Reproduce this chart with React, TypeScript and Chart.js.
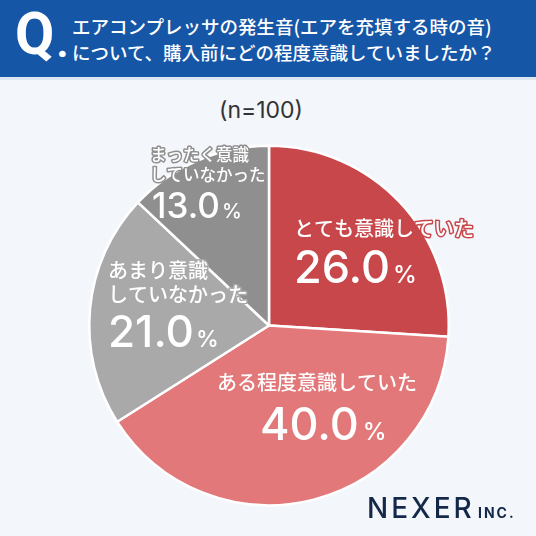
import React, { useEffect, useRef } from "react";
import { Chart, registerables } from "chart.js";

Chart.register(...registerables);

// ---- data ----
const categories = [
  "とても意識していた",
  "ある程度意識していた",
  "あまり意識していなかった",
  "まったく意識していなかった",
];
const labelLines = [
  ["とても意識していた"],
  ["ある程度意識していた"],
  ["あまり意識", "していなかった"],
  ["まったく意識", "していなかった"],
];
const values = [26.0, 40.0, 21.0, 13.0];
const titleLines = [
  "エアコンプレッサの発生音(エアを充填する時の音)",
  "について、購入前にどの程度意識していましたか？",
];
const sampleText = "(n=100)";
const brandMain = "NEXER";
const brandSub = "INC.";

// ---- styles ----
const sliceColors = ["#c8474b", "#e27879", "#a9a9a9", "#8f8f8f"];
const labelLayout = [
  { lineDx: 25, lineDy: [-97.5], lineSize: 20, numDx: 25, numDy: -42.5, numSize: 45, pctSize: 24, gap: 3 },
  { lineDx: -52, lineDy: [56.5], lineSize: 20, numDx: -9, numDy: 114.5, numSize: 45, pctSize: 24, gap: 4 },
  { lineDx: -161, lineDy: [-55.5, -31.5], lineSize: 20, numDx: -161, numDy: 21.5, numSize: 44, pctSize: 23, gap: 2 },
  { lineDx: -119, lineDy: [-170.5, -150.5], lineSize: 16.5, numDx: -117, numDy: -107.5, numSize: 35, pctSize: 20, gap: 2 },
];
const JP = '"Noto Sans CJK JP", "Noto Sans", sans-serif';
const NUM = 'Inter, "Noto Sans", sans-serif';

const labelPlugin = {
  id: "sliceLabels",
  afterDatasetsDraw(chart: any) {
    const ctx = chart.ctx as CanvasRenderingContext2D;
    const meta = chart.getDatasetMeta(0);
    meta.data.forEach((arc: any, i: number) => {
      const { x: cx, y: cy } = arc.getProps(["x", "y"], true);
      const L = labelLayout[i];
      ctx.save();
      ctx.lineJoin = "round";
      ctx.strokeStyle = sliceColors[i];
      ctx.lineWidth = 3;
      ctx.fillStyle = "#ffffff";
      ctx.textAlign = "left";
      ctx.textBaseline = "middle";
      ctx.font = `500 ${L.lineSize}px ${JP}`;
      labelLines[i].forEach((t, k) => {
        const y = cy + L.lineDy[k];
        ctx.strokeText(t, cx + L.lineDx, y);
        ctx.fillText(t, cx + L.lineDx, y);
      });
      ctx.textBaseline = "alphabetic";
      const num = values[i].toFixed(1);
      ctx.font = `500 ${L.numSize}px ${NUM}`;
      const nx = cx + L.numDx;
      const ny = cy + L.numDy;
      ctx.strokeText(num, nx, ny);
      ctx.fillText(num, nx, ny);
      const w = ctx.measureText(num).width;
      ctx.font = `500 ${L.pctSize}px ${NUM}`;
      ctx.strokeText("%", nx + w + L.gap, ny);
      ctx.fillText("%", nx + w + L.gap, ny);
      ctx.restore();
    });
  },
};

export default function App() {
  const canvasRef = useRef<HTMLCanvasElement | null>(null);

  useEffect(() => {
    if (!canvasRef.current) return;
    const chart = new Chart(canvasRef.current, {
      type: "pie",
      data: {
        labels: categories,
        datasets: [
          {
            data: values,
            backgroundColor: sliceColors,
            borderColor: "#ffffff",
            borderWidth: 2.5,
          },
        ],
      },
      options: {
        responsive: false,
        animation: false,
        layout: { padding: { left: 88, right: 86, top: 144.5, bottom: 29.5 } },
        plugins: {
          legend: { display: false },
          tooltip: { enabled: false },
        },
        events: [],
      },
      plugins: [labelPlugin],
    });
    return () => chart.destroy();
  }, []);

  return (
    <div
      style={{
        position: "absolute",
        left: 0,
        top: 0,
        width: 536,
        height: 536,
        background: "#f3f6fb",
        overflow: "hidden",
      }}
    >
      <div style={{ position: "absolute", left: 0, top: 0, width: 536, height: 77, background: "#1656a7" }} />
      <div style={{ position: "absolute", left: 0, top: 77, width: 536, height: 3, background: "#dce6f3" }} />
      <div
        style={{
          position: "absolute",
          left: 15,
          top: 4,
          fontFamily: "Roboto, sans-serif",
          fontWeight: 700,
          fontSize: 60,
          lineHeight: "60px",
          color: "#fff",
          whiteSpace: "nowrap",
        }}
      >
        <span style={{ display: "inline-block", transform: "scaleX(0.95)", transformOrigin: "left" }}>Q</span>
      </div>
      <div
        style={{
          position: "absolute",
          left: 57,
          top: 27,
          fontFamily: "Roboto, sans-serif",
          fontWeight: 900,
          fontSize: 36,
          lineHeight: "36px",
          color: "#fff",
        }}
      >
        .
      </div>
      {titleLines.map((t, k) => (
        <div
          key={k}
          style={{
            position: "absolute",
            left: 72,
            top: 13 + k * 26,
            fontFamily: JP,
            fontWeight: 500,
            fontSize: 18.5,
            lineHeight: "26px",
            color: "#fff",
            whiteSpace: "nowrap",
          }}
        >
          {t}
        </div>
      ))}
      <div
        style={{
          position: "absolute",
          left: 0,
          width: 522,
          top: 95,
          textAlign: "center",
          fontFamily: NUM,
          fontSize: 23,
          lineHeight: "30px",
          color: "#333333",
        }}
      >
        {sampleText}
      </div>
      <canvas
        ref={canvasRef}
        width={536}
        height={536}
        style={{ position: "absolute", left: 0, top: 0, width: 536, height: 536 }}
      />
      <div
        style={{
          position: "absolute",
          left: 367,
          top: 494,
          fontFamily: NUM,
          fontWeight: 500,
          fontSize: 28,
          lineHeight: "28px",
          letterSpacing: 3,
          color: "#14284a",
          whiteSpace: "nowrap",
        }}
      >
        {brandMain}
      </div>
      <div
        style={{
          position: "absolute",
          left: 478,
          top: 506,
          fontFamily: NUM,
          fontWeight: 700,
          fontSize: 14,
          lineHeight: "14px",
          letterSpacing: 2,
          color: "#14284a",
          whiteSpace: "nowrap",
        }}
      >
        {brandSub}
      </div>
    </div>
  );
}
